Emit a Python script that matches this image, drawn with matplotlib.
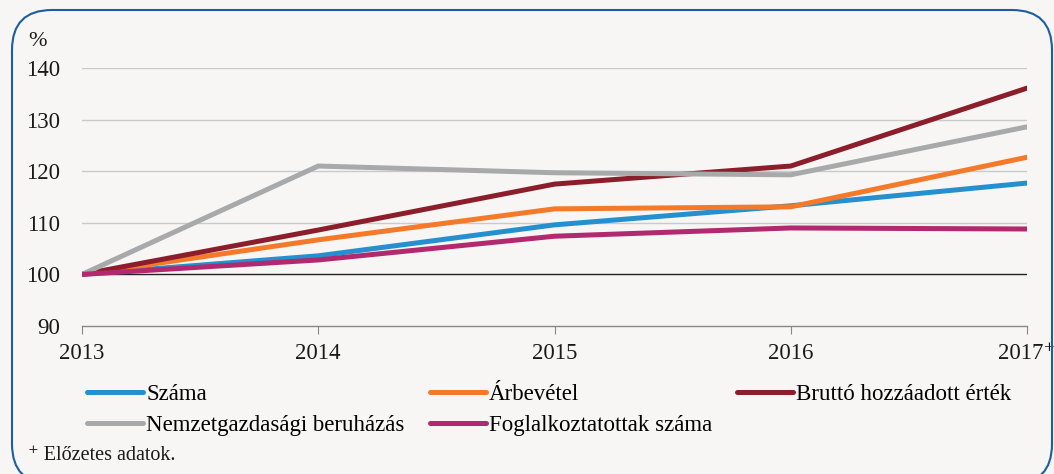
import matplotlib
matplotlib.use("Agg")
import matplotlib.pyplot as plt
from matplotlib.patches import FancyBboxPatch

plt.rcParams['font.family'] = ['Liberation Serif', 'DejaVu Serif']

# data
years = [2013, 2014, 2015, 2016, 2017]
year_labels = ['2013', '2014', '2015', '2016', '2017\u207a']
szama = [100, 103.6, 109.6, 113.3, 117.7]
arbevetel = [100, 106.7, 112.7, 113.1, 122.7]
brutto = [100, 108.6, 117.5, 121.0, 136.1]
beruhazas = [100, 121.0, 119.7, 119.3, 128.6]
foglalkoztatottak = [100, 102.8, 107.4, 109.0, 108.8]

series = [
    ('Száma', szama, '#2490d0'),
    ('Árbevétel', arbevetel, '#f47a2a'),
    ('Bruttó hozzáadott érték', brutto, '#8b1e2a'),
    ('Nemzetgazdasági beruházás', beruhazas, '#a7a9aa'),
    ('Foglalkoztatottak száma', foglalkoztatottak, '#b2296f'),
]

bg = '#f7f6f4'
fig = plt.figure(figsize=(10.54, 4.74), dpi=100, facecolor=bg)
ax = fig.add_axes([82/1054, 1-326/474, (1027-82)/1054, (326-68)/474])
ax.set_facecolor(bg)

for y in [110, 120, 130, 140]:
    ax.axhline(y, color='#c8cacc', lw=1.0, zorder=1)
ax.axhline(100, color='#222222', lw=1.0, zorder=1)

lines = {}
for name, vals, col in series:
    l, = ax.plot(years, vals, color=col, lw=3.6, solid_capstyle='round', label=name, zorder=3)
    lines[name] = l

ax.set_xlim(2013, 2017)
ax.set_ylim(90, 140)
ax.set_yticks([90, 100, 110, 120, 130, 140])
ax.set_xticks(years)
ax.set_xticklabels(year_labels)
for s in ['top', 'right', 'left']:
    ax.spines[s].set_visible(False)
ax.spines['bottom'].set_color('#888888')
ax.spines['bottom'].set_linewidth(1.0)
ax.tick_params(axis='y', length=0, pad=16, labelsize=16.5, colors='#1a1a1a')
ax.tick_params(axis='x', length=6, width=0.8, color='#888888', pad=6, labelsize=16.5, colors='#1a1a1a')
# the + of 2017 hangs to the right of the tick
ax.get_xticklabels()[-1].set_horizontalalignment('center')
ax.get_xticklabels()[-1].set_x(2017.03)

fig.text(28/1054, 1-42/474, '%', fontsize=16, va='center', ha='left', color='#1a1a1a')

# legend order so that rows read: Száma, Árbevétel, Bruttó / Nemzetgazdasági, Foglalkoztatottak
order = ['Száma', 'Nemzetgazdasági beruházás', 'Árbevétel', 'Foglalkoztatottak száma',
         'Bruttó hozzáadott érték']
fig.legend(handles=[lines[n] for n in order], loc='upper left', bbox_to_anchor=(87/1054, 1-384/474),
           ncol=3, frameon=False, fontsize=16.5, handlelength=2.45, handletextpad=0.13,
           columnspacing=1.1, labelspacing=0.42, borderaxespad=0, borderpad=0)

fig.text(28/1054, 1-456/474, '\u207a Előzetes adatok.', fontsize=14.5, va='center', ha='left', color='#1a1a1a')

box = FancyBboxPatch((0.12 + 0.4, -0.1 + 0.4), 10.52 - 0.12 - 0.8, 4.64 + 0.1 - 0.8,
                     boxstyle='round,pad=0.4', transform=fig.dpi_scale_trans,
                     facecolor='none', edgecolor='#1b5e9f', lw=1.5, zorder=10)
fig.patches.append(box)

fig.savefig('out.png', dpi=100, facecolor=bg)
